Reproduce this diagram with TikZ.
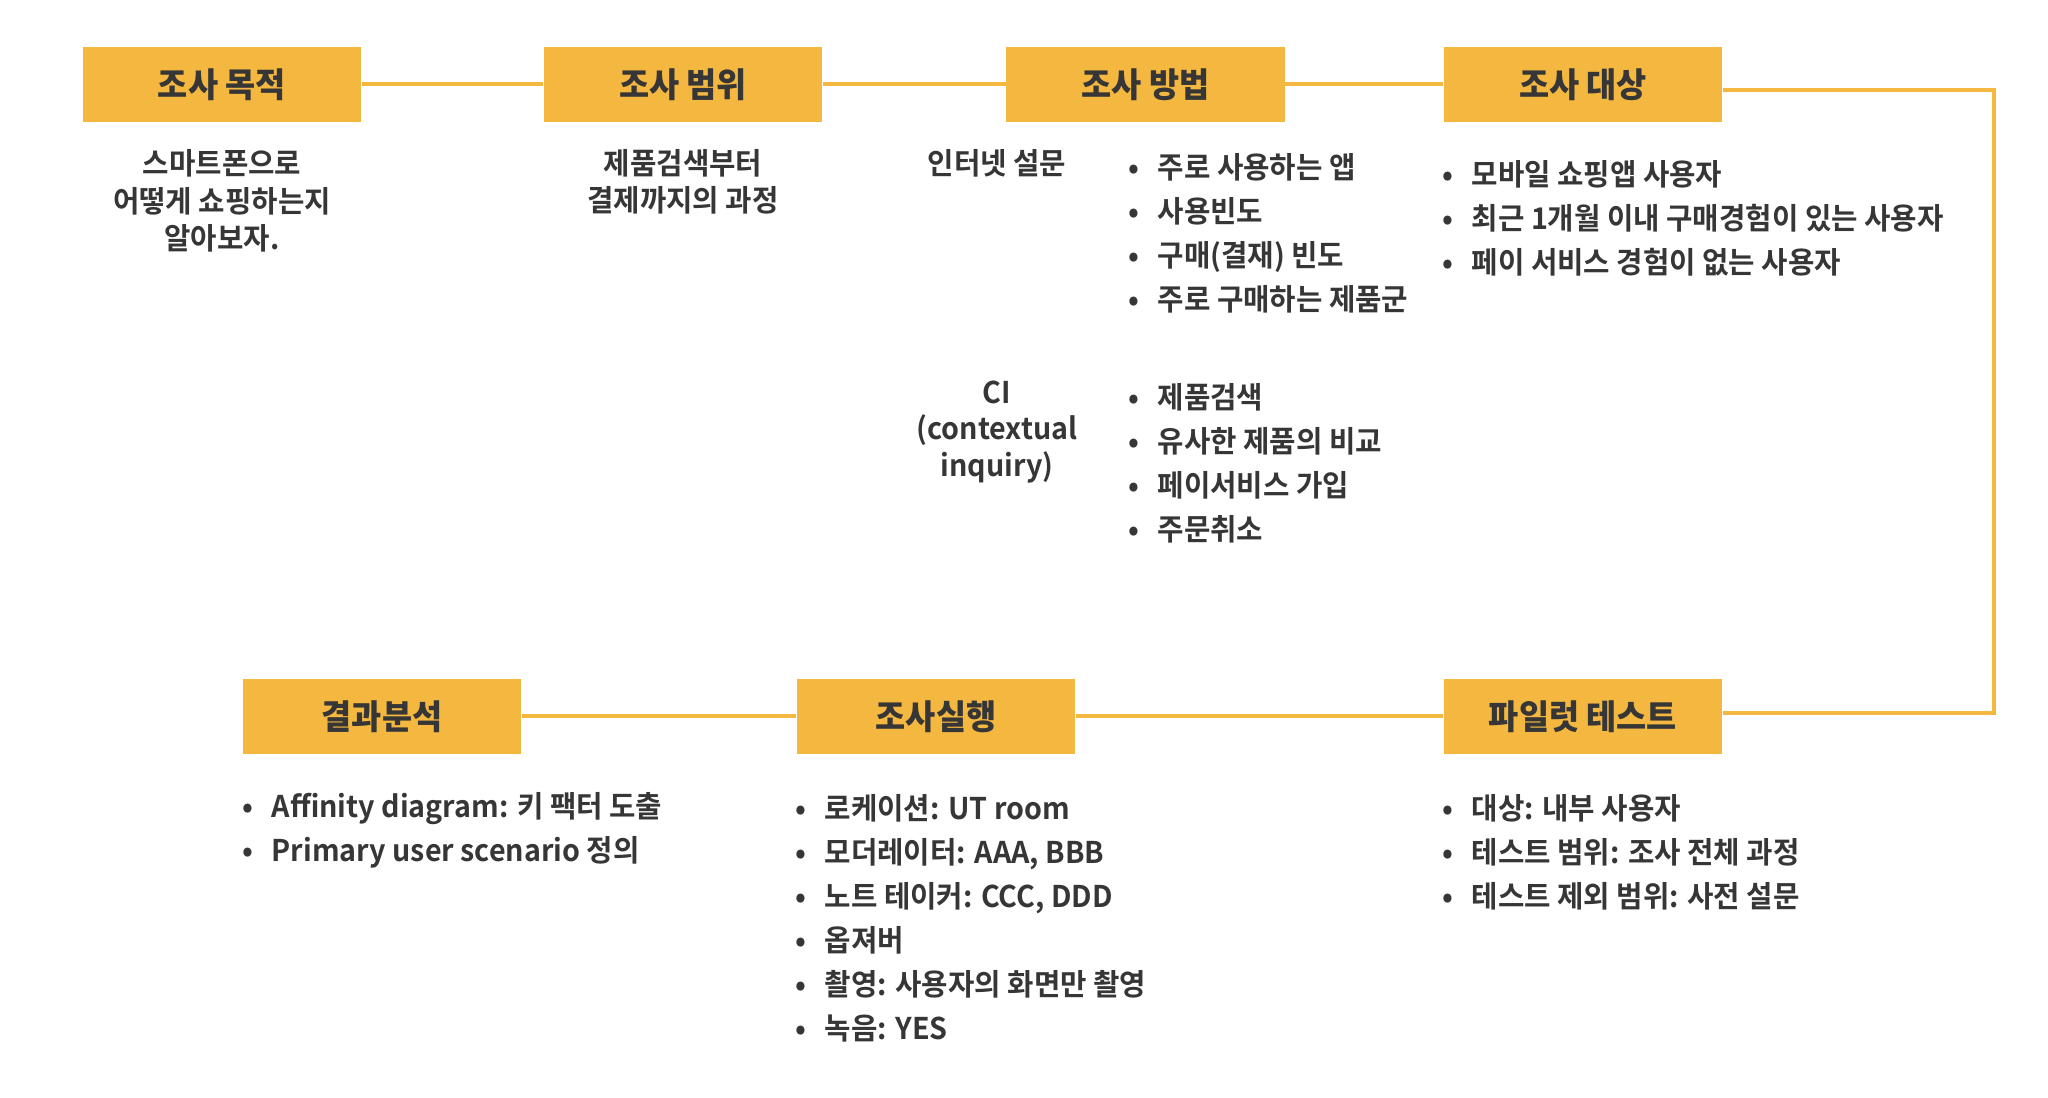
\documentclass[tikz,border=0pt]{standalone}
\usepackage{fontspec}
\newfontfamily\krmed{Noto Sans CJK KR Bold}[FakeStretch=0.96]
\newfontfamily\krbold{Noto Sans CJK KR Black}[FakeStretch=0.96]
\definecolor{boxorange}{HTML}{F4B740}
\definecolor{ink}{HTML}{363636}
\newcommand{\itm}{\makebox[0.24cm][l]{\makebox[0pt]{•}}}
\begin{document}
\begin{tikzpicture}[x=0.01cm, y=-0.01cm,
  stage/.style={fill=boxorange, minimum width=2.78cm, minimum height=0.75cm, inner sep=0pt, text=ink, font=\krbold\fontsize{9.7}{11}\selectfont},
  link/.style={draw=boxorange, line width=0.04cm},
  note/.style={inner sep=0pt, text=ink, align=center, font=\krmed\fontsize{8.5}{10.7}\selectfont},
  list/.style={inner sep=0pt, text=ink, align=left, anchor=west, font=\krmed\fontsize{8.5}{12.5}\selectfont}]
  \useasboundingbox (0,0) rectangle (2048,1098);
  \node[stage] (purpose) at (222,84.5) {조사 목적};
  \node[stage] (scope) at (683,84.5) {조사 범위};
  \node[stage] (method) at (1145.5,84.5) {조사 방법};
  \node[stage] (target) at (1583,84.5) {조사 대상};
  \node[stage] (analysis) at (382,716.5) {결과분석};
  \node[stage] (run) at (936,716.5) {조사실행};
  \node[stage] (pilot) at (1583,716.5) {파일럿 테스트};
  \draw[link] (purpose.east) -- (scope.west);
  \draw[link] (scope.east) -- (method.west);
  \draw[link] (method.east) -- (target.west);
  \draw[link] ([yshift=-0.06cm]target.east) -| ([xshift=2.71cm,yshift=0.03cm]pilot.east) -- ([yshift=0.03cm]pilot.east);
  \draw[link] (pilot.west) -- (run.east);
  \draw[link] (run.west) -- (analysis.east);
  \node[note] (purposetxt) at (222,201) {스마트폰으로\\어떻게 쇼핑하는지\\알아보자.};
  \node[note] (scopetxt) at (683,182) {제품검색부터\\결제까지의 과정};
  \node[note] (survey) at (997,163) {인터넷 설문};
  \node[note, font=\krmed\fontsize{8.5}{10.4}\selectfont] (ci) at (997,432) {CI\\(contextual\\inquiry)};
  \node[list] (surveyitems) at (1133,233) {\itm 주로 사용하는 앱\\\itm 사용빈도\\\itm 구매(결재) 빈도\\\itm 주로 구매하는 제품군};
  \node[list] (ciitems) at (1133,463) {\itm 제품검색\\\itm 유사한 제품의 비교\\\itm 페이서비스 가입\\\itm 주문취소};
  \node[list] (targetitems) at (1447,218) {\itm 모바일 쇼핑앱 사용자\\\itm 최근 1개월 이내 구매경험이 있는 사용자\\\itm 페이 서비스 경험이 없는 사용자};
  \node[list] (analysisitems) at (247,830.5) {\itm Affinity diagram: 키 팩터 도출\\\itm Primary user scenario 정의};
  \node[list] (runitems) at (800,918) {\itm 로케이션: UT room\\\itm 모더레이터: AAA, BBB\\\itm 노트 테이커: CCC, DDD\\\itm 옵져버\\\itm 촬영: 사용자의 화면만 촬영\\\itm 녹음: YES};
  \node[list] (pilotitems) at (1447,852) {\itm 대상: 내부 사용자\\\itm 테스트 범위: 조사 전체 과정\\\itm 테스트 제외 범위: 사전 설문};
\end{tikzpicture}
\end{document}
